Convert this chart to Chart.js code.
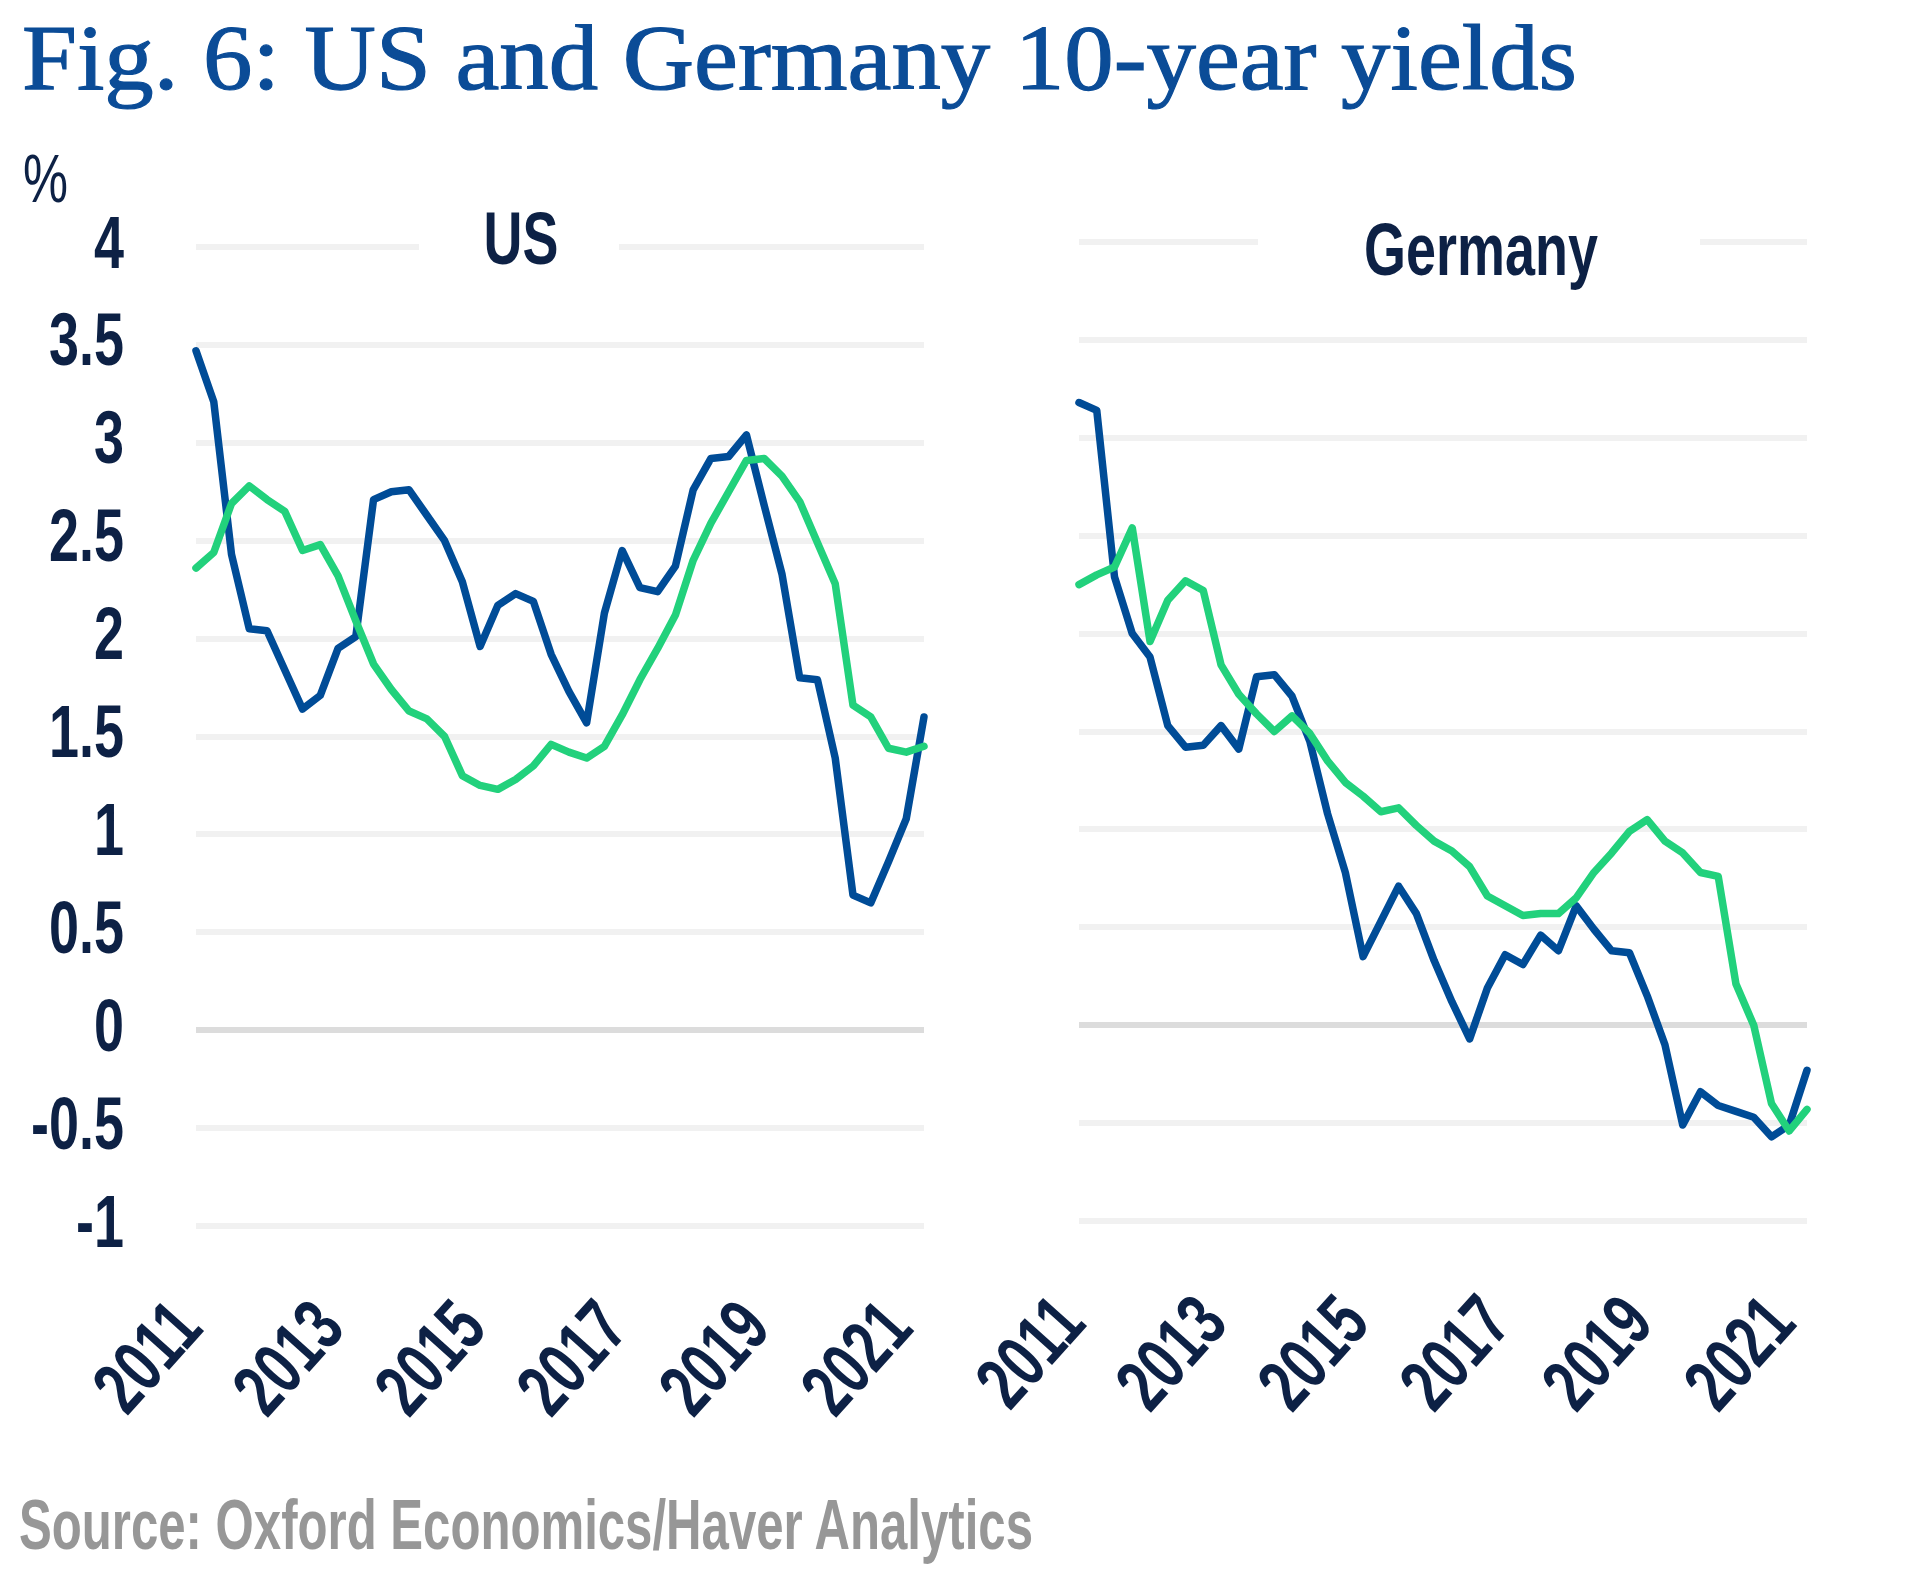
<!DOCTYPE html>
<html>
<head>
<meta charset="utf-8">
<script src="https://cdn.jsdelivr.net/npm/chart.js@4.4.1/dist/chart.umd.min.js"></script>
<style>
html,body{margin:0;padding:0;background:#fff;}
#page{position:relative;width:1932px;height:1576px;overflow:hidden;background:#fff;}
.txt{position:absolute;white-space:nowrap;line-height:1;transform-origin:0 0;margin:0;}
#title{left:22px;top:10px;font-family:'Liberation Serif','DejaVu Serif',serif;font-size:94px;color:#0b4c97;-webkit-text-stroke:1.2px #0b4c97;}
#unit{left:23px;top:144px;font-family:'Liberation Sans Narrow','Liberation Sans','DejaVu Sans Condensed',sans-serif;font-size:68px;color:#0d2145;}
#source{left:19px;top:1490px;font-family:'Liberation Sans Narrow','Liberation Sans','DejaVu Sans Condensed',sans-serif;font-size:70px;font-weight:bold;color:#979797;}
canvas{position:absolute;top:0;}
#usCanvas{left:0;}
#deCanvas{left:966px;}
</style>
</head>
<body>
<div id="page">
  <div class="txt" id="title" data-w="1555">Fig. 6: US and Germany 10-year yields</div>
  <div class="txt" id="unit" data-w="45">%</div>
  <canvas id="usCanvas" width="966" height="1460" style="width:966px;height:1460px"></canvas>
  <canvas id="deCanvas" width="966" height="1460" style="width:966px;height:1460px"></canvas>
  <div class="txt" id="source" data-w="1014">Source: Oxford Economics/Haver Analytics</div>
</div>
<script>
// ---- data ----
const quarters = [
  '2011Q1','2011Q2','2011Q3','2011Q4','2012Q1','2012Q2','2012Q3','2012Q4',
  '2013Q1','2013Q2','2013Q3','2013Q4','2014Q1','2014Q2','2014Q3','2014Q4',
  '2015Q1','2015Q2','2015Q3','2015Q4','2016Q1','2016Q2','2016Q3','2016Q4',
  '2017Q1','2017Q2','2017Q3','2017Q4','2018Q1','2018Q2','2018Q3','2018Q4',
  '2019Q1','2019Q2','2019Q3','2019Q4','2020Q1','2020Q2','2020Q3','2020Q4',
  '2021Q1','2021Q2'
];
const yearTicks = ['2011','2013','2015','2017','2019','2021'];
const yTickValues = [4, 3.5, 3, 2.5, 2, 1.5, 1, 0.5, 0, -0.5, -1];

const usBlue = [3.47,3.21,2.43,2.05,2.04,1.84,1.64,1.71,1.95,2.01,2.71,2.75,2.76,2.63,2.50,2.29,1.96,2.17,2.23,2.19,
  1.92,1.73,1.57,2.13,2.45,2.26,2.24,2.37,2.76,2.92,2.93,3.04,2.68,2.33,1.80,1.79,1.39,0.69,0.65,0.86,1.08,1.60];
const usGreen = [2.36,2.44,2.69,2.78,2.71,2.65,2.45,2.48,2.32,2.09,1.87,1.74,1.63,1.59,1.50,1.30,1.25,1.23,1.28,1.35,
  1.46,1.42,1.39,1.45,1.61,1.79,1.95,2.12,2.40,2.59,2.75,2.91,2.92,2.83,2.70,2.49,2.28,1.66,1.60,1.44,1.42,1.45];
const deBlue = [3.18,3.14,2.29,2.00,1.88,1.53,1.42,1.43,1.53,1.41,1.78,1.79,1.68,1.45,1.08,0.78,0.35,0.53,0.71,0.57,
  0.33,0.12,-0.07,0.19,0.36,0.31,0.46,0.38,0.61,0.49,0.38,0.37,0.15,-0.10,-0.51,-0.34,-0.41,-0.44,-0.47,-0.57,-0.51,-0.23];
const deGreen = [2.25,2.30,2.34,2.54,1.96,2.17,2.27,2.22,1.84,1.69,1.59,1.50,1.58,1.49,1.35,1.24,1.17,1.09,1.11,1.02,
  0.94,0.89,0.81,0.66,0.61,0.56,0.57,0.57,0.65,0.78,0.88,0.99,1.05,0.94,0.88,0.78,0.76,0.21,0.00,-0.40,-0.54,-0.43];

// ---- styles ----
const BLUE = '#004c97';
const GREEN = '#22d17c';
const NAVY = '#0d2145';
const CONDENSED = "'Liberation Sans Narrow','Liberation Sans','DejaVu Sans Condensed',sans-serif";

const condensedText = {
  id: 'condensedText',
  afterDraw(chart, args, o) {
    const ctx = chart.ctx;
    ctx.save();
    ctx.font = 'bold ' + o.size + 'px ' + CONDENSED;
    const sx = o.digitWidth / ctx.measureText('0').width;
    ctx.fillStyle = NAVY;
    const ys = chart.scales.y, xs = chart.scales.x;
    if (o.yLabels) {
      ys.ticks.forEach((t, i) => {
        const y = ys.getPixelForTick(i);
        ctx.save();
        ctx.translate(ys.right - o.yPad, y + o.yBase);
        ctx.scale(sx, 1);
        ctx.textAlign = 'right';
        ctx.textBaseline = 'alphabetic';
        ctx.fillText(String(t.label), 0, 0);
        ctx.restore();
      });
    }
    xs.ticks.forEach((t, i) => {
      if (!t.label) return;
      const x = xs.getPixelForTick(i);
      ctx.save();
      ctx.translate(x + o.xShift, chart.chartArea.bottom + o.xDrop);
      ctx.rotate(-o.angle * Math.PI / 180);
      ctx.scale(sx, 1);
      ctx.textAlign = 'right';
      ctx.textBaseline = 'alphabetic';
      ctx.fillText(String(t.label), 0, 0);
      ctx.restore();
    });
    // panel title sitting on the top gridline
    const top = ys.getPixelForValue(ys.max);
    ctx.fillStyle = '#ffffff';
    ctx.fillRect(o.gap[0], top - 8, o.gap[1] - o.gap[0], 16);
    ctx.fillStyle = NAVY;
    ctx.save();
    ctx.translate(o.titleX, top + o.titleBase);
    ctx.scale(sx, 1);
    ctx.textAlign = 'center';
    ctx.textBaseline = 'alphabetic';
    ctx.fillText(o.title, 0, 0);
    ctx.restore();
    ctx.restore();
  }
};

function makeChart(id, blue, green, cfg) {
  return new Chart(document.getElementById(id), {
    type: 'line',
    data: {
      labels: quarters,
      datasets: [
        { label: 'Green series', data: green, borderColor: GREEN, borderWidth: 7.5, pointRadius: 0,
          tension: 0, borderJoinStyle: 'round', borderCapStyle: 'round', fill: false, clip: false },
        { label: '10-year yield', data: blue, borderColor: BLUE, borderWidth: 7.5, pointRadius: 0,
          tension: 0, borderJoinStyle: 'round', borderCapStyle: 'round', fill: false, clip: false }
      ]
    },
    options: {
      responsive: false,
      animation: false,
      events: [],
      layout: { padding: { top: cfg.padTop, right: cfg.padRight, bottom: 0, left: 0 } },
      plugins: {
        legend: { display: false },
        tooltip: { enabled: false },
        title: { display: false },
        condensedText: {
          size: 75, digitWidth: 30, yLabels: cfg.yLabels, yPad: 72, yBase: 20.5,
          xShift: 9, xDrop: 104, angle: 48,
          title: cfg.title, titleX: cfg.titleX, titleBase: cfg.titleBase, gap: cfg.gap
        }
      },
      scales: {
        x: {
          type: 'category',
          offset: false,
          grid: { display: false, drawTicks: false },
          border: { display: false },
          ticks: {
            display: false, autoSkip: false,
            callback: (v, i) => {
              const q = quarters[i];
              const yr = q.slice(0, 4);
              return (q.endsWith('Q1') && yearTicks.includes(yr)) ? yr : '';
            }
          },
          afterFit: (s) => { s.height = cfg.xHeight; }
        },
        y: {
          min: yTickValues[yTickValues.length - 1],
          max: yTickValues[0],
          grid: {
            drawTicks: false,
            lineWidth: 6,
            color: (c) => (c.tick && c.tick.value === 0) ? '#dcdcdc' : '#f1f1f1'
          },
          border: { display: false },
          ticks: { display: false, stepSize: 0.5, callback: (v) => String(v) },
          afterFit: (s) => { s.width = cfg.yWidth; }
        }
      }
    },
    plugins: [condensedText]
  });
}

makeChart('usCanvas', usBlue, usGreen, {
  padTop: 247, padRight: 42, yWidth: 196, xHeight: 234, yLabels: true,
  title: 'US', titleX: 521, titleBase: 17, gap: [419, 619]
});
makeChart('deCanvas', deBlue, deGreen, {
  padTop: 242, padRight: 125, yWidth: 113, xHeight: 239, yLabels: false,
  title: 'Germany', titleX: 515, titleBase: 33, gap: [292, 734]
});

function fitText() {
  document.querySelectorAll('.txt').forEach(el => {
    el.style.transform = 'none';
    const w = el.getBoundingClientRect().width;
    const target = parseFloat(el.dataset.w);
    el.style.transform = 'scaleX(' + (target / w) + ')';
  });
}
fitText();
if (document.fonts && document.fonts.ready) document.fonts.ready.then(fitText);
</script>
</body>
</html>
